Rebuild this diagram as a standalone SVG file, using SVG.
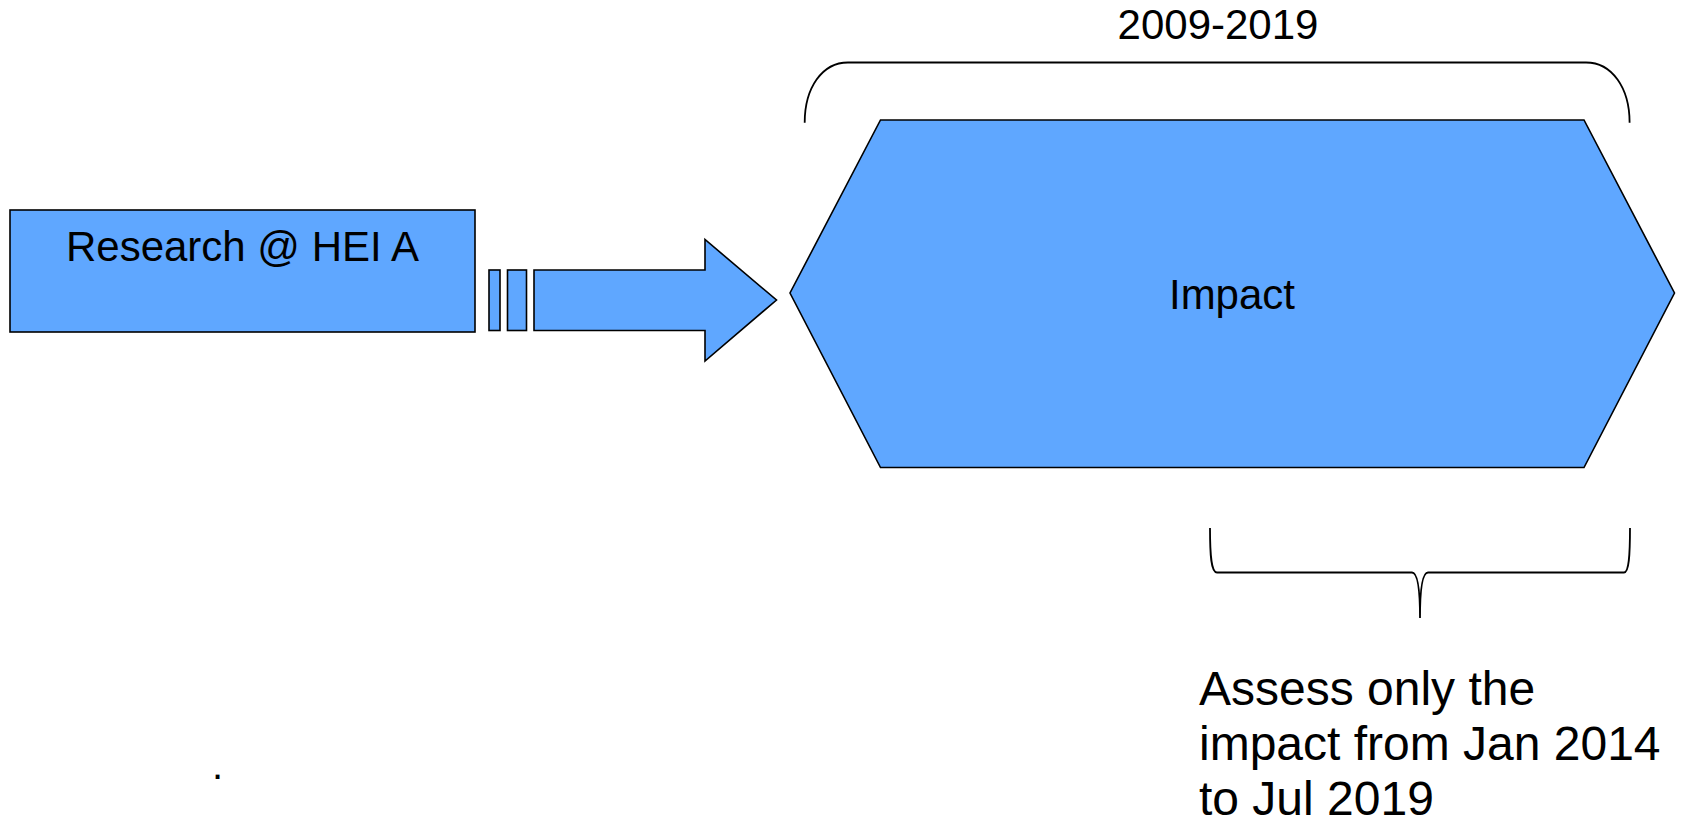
<svg xmlns="http://www.w3.org/2000/svg" width="1686" height="824" viewBox="0 0 1686 824">
<style>
.shape{fill:#5FA7FF;stroke:#000;stroke-width:1.6}
.brace{fill:none;stroke:#000;stroke-width:1.8}
text{font-family:"Liberation Sans",Arial,sans-serif;fill:#000}
.t40{font-size:40px}
.t42{font-size:42px}
.t48{font-size:48px}
</style>
<rect width="1686" height="824" fill="#fff"/>
<g id="research">
<rect class="shape" x="10" y="210" width="465" height="122"/>
<text class="t42" x="242.5" y="261" text-anchor="middle">Research @ HEI A</text>
</g>
<g id="connectors">
<rect class="shape" x="489" y="270" width="11" height="60.5"/>
<rect class="shape" x="507.5" y="270" width="19" height="60.5"/>
<path class="shape" d="M534,270 L705,270 L705,239.5 L776.5,300 L705,361 L705,330.5 L534,330.5 Z"/>
</g>
<g id="impact">
<path class="shape" d="M880.5,120 L1584,120 L1674.5,293 L1584,467.5 L880.5,467.5 L790,293 Z"/>
<text class="t42" x="1232" y="309" text-anchor="middle">Impact</text>
</g>
<g id="top-brace">
<path class="brace" d="M804.7,122.7 C804.7,88 822,62.5 848,62.5 L1586,62.5 C1612,62.5 1629.6,88 1629.6,122.7"/>
<text class="t42" x="1218" y="39" text-anchor="middle">2009-2019</text>
</g>
<g id="bottom-brace">
<path class="brace" d="M1210,528 C1210,555 1211,572.5 1217,572.5 L1412,572.5 C1418,572.5 1420,590 1420,618 C1420,590 1422,572.5 1428,572.5 L1624,572.5 C1629,572.5 1630,555 1630,528"/>
<text class="t48" x="1199" y="705">Assess only the</text>
<text class="t48" x="1199" y="760">impact from Jan 2014</text>
<text class="t48" x="1199" y="815">to Jul 2019</text>
</g>
<g id="dot">
<text class="t40" x="212" y="779">.</text>
</g>
</svg>
